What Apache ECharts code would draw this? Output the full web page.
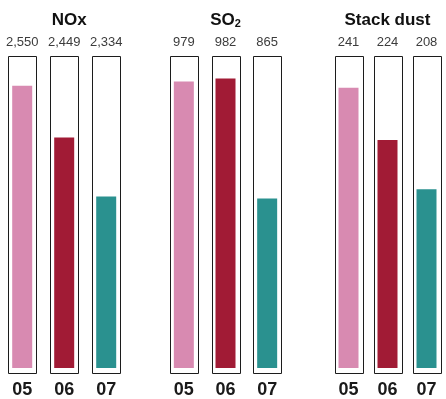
<!DOCTYPE html>
<html>
<head>
<meta charset="utf-8">
<script src="https://cdn.jsdelivr.net/npm/echarts@6/dist/echarts.min.js"></script>
<style>
  html, body { margin: 0; padding: 0; background: #ffffff; }
  #chart { width: 446px; height: 399px; }
</style>
</head>
<body>
<div id="chart"></div>
<script>
// Emissions by year, three pollutants
const years = ['05', '06', '07'];
const pollutantNames = ['NOx', 'SO{sub|2}', 'Stack dust'];
const noxValues = [2550, 2449, 2334];
const so2Values = [979, 982, 865];
const dustValues = [241, 224, 208];
// value-axis range of each panel (bars start at the panel minimum)
const axisMins = [2000, 700, 150];
const axisMaxs = [2600, 1000, 250];
const yearColors = ['#D88AB1', '#A11B35', '#2A918F'];

const panelValues = [noxValues, so2Values, dustValues];
const panelLeft = [1.2, 163, 329];
const panelWidth = [126, 125, 123.3];
const FONT = '"Liberation Sans", Arial, sans-serif';
const FRAME_W = 28, FRAME_PAD = 4.5;

const grids = [], xAxes = [], yAxes = [], series = [];
panelValues.forEach(function (vals, g) {
  grids.push({ left: panelLeft[g], width: panelWidth[g], top: 60, height: 308 });
  // bottom axis: year labels
  xAxes.push({
    type: 'category', gridIndex: g, data: years, position: 'bottom',
    axisLine: { show: false }, axisTick: { show: false },
    axisLabel: { interval: 0, margin: 13, fontFamily: FONT, fontSize: 18, fontWeight: 'bold', color: '#1a1a1a' }
  });
  // top axis: value labels and panel title
  xAxes.push({
    type: 'category', gridIndex: g, position: 'top',
    data: vals.map(function (v) { return v.toLocaleString('en-US'); }),
    axisLine: { show: false }, axisTick: { show: false },
    axisLabel: { interval: 0, hideOverlap: false, margin: 11, fontFamily: FONT, fontSize: 13, color: '#3c3c3c' },
    name: pollutantNames[g], nameLocation: 'middle', nameGap: 31,
    nameTextStyle: {
      fontFamily: FONT, fontSize: 17, fontWeight: 'bold', color: '#111',
      padding: g === 0 ? [0, 0, 0, 10] : 0,
      rich: {
        sub: { fontFamily: FONT, fontSize: 11, fontWeight: 'bold', color: '#111', verticalAlign: 'bottom', padding: [5, 0, 0, 0] }
      }
    }
  });
  yAxes.push({
    type: 'value', gridIndex: g, min: axisMins[g], max: axisMaxs[g],
    show: false, splitLine: { show: false }
  });
  // outlined frame behind each bar, spanning the whole value range
  series.push({
    type: 'custom', xAxisIndex: 2 * g, yAxisIndex: g, silent: true,
    data: years.map(function (y, i) { return [i]; }),
    renderItem: function (params, api) {
      const top = api.coord([api.value(0), axisMaxs[g]]);
      const bot = api.coord([api.value(0), axisMins[g]]);
      const x = Math.round(top[0] - FRAME_W / 2) + 0.5;
      const y = Math.round(top[1] - FRAME_PAD) + 0.5;
      const h = Math.round(bot[1] + FRAME_PAD) - Math.round(top[1] - FRAME_PAD);
      return {
        type: 'rect',
        shape: { x: x, y: y, width: FRAME_W, height: h },
        style: { fill: '#ffffff', stroke: '#1c1c1c', lineWidth: 1 }
      };
    }
  });
  series.push({
    type: 'bar', xAxisIndex: 2 * g, yAxisIndex: g, barWidth: 20,
    data: vals,
    itemStyle: { color: function (p) { return yearColors[p.dataIndex]; } }
  });
});

const chart = echarts.init(document.getElementById('chart'), null, { renderer: 'canvas' });
chart.setOption({
  backgroundColor: '#ffffff',
  animation: false,
  grid: grids, xAxis: xAxes, yAxis: yAxes, series: series
});
</script>
</body>
</html>
